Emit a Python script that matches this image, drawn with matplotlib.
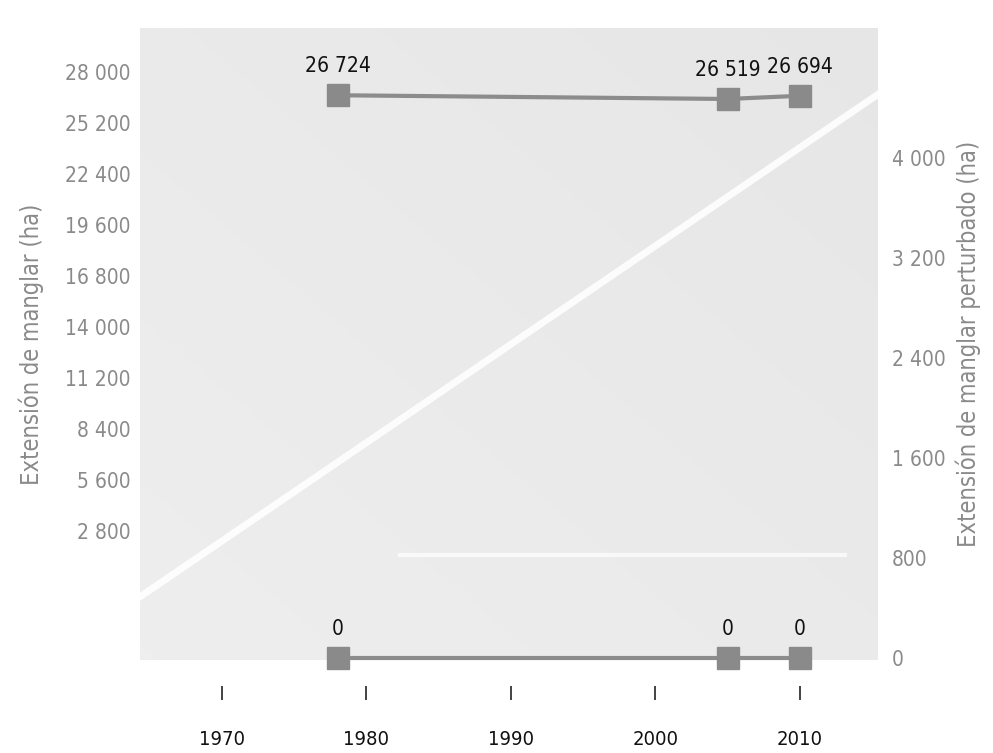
import numpy as np
import matplotlib.pyplot as plt
from matplotlib.ticker import FuncFormatter

plt.rcParams['font.family'] = ['DejaVu Sans']
plt.rcParams['font.stretch'] = 'condensed'

years = [1978, 2005, 2010]
manglar = [26724, 26519, 26694]
perturbado = [0, 0, 0]
left_ticks = [2800, 5600, 8400, 11200, 14000, 16800, 19600, 22400, 25200, 28000]
right_ticks = [0, 800, 1600, 2400, 3200, 4000]
year_ticks = [1970, 1980, 1990, 2000, 2010]


def miles(v, pos=None):
    return f"{int(v):,}".replace(",", " ")


def graph_plot():
    fig = plt.figure(figsize=(9.93, 7.53), dpi=100)
    ax = fig.add_axes([140/993, 1-660/753, 738/993, 632/753])
    ax2 = ax.twinx()

    # soft gray panel with a faint gradient
    grad = np.linspace(0, 1, 200)
    gx, gy = np.meshgrid(grad, grad)
    shade = 0.93 - 0.03*(gx*0.5 + (1-gy)*0.5)
    ax.imshow(shade, cmap='gray', vmin=0, vmax=1, extent=[0, 1, 0, 1],
              transform=ax.transAxes, aspect='auto', zorder=0, origin='upper')
    ax.plot([0, 1], [0.10, 0.895], transform=ax.transAxes, color='white', lw=5,
            alpha=0.9, zorder=1)
    ax.plot([0.352, 0.955], [0.166, 0.166], transform=ax.transAxes, color='white',
            lw=3, alpha=0.7, zorder=1)

    ax.set_xlim(1964.33, 2015.4)
    ax.set_ylim(-4282, 30416)
    ax2.set_ylim(-16, 5040)

    ax.plot(years, manglar, color='#8c8c8c', lw=3, marker='s', markersize=16,
            markerfacecolor='#8a8a8a', markeredgecolor='#8a8a8a', zorder=3)
    ax2.plot(years, perturbado, color='#8c8c8c', lw=3, marker='s', markersize=16,
             markerfacecolor='#8a8a8a', markeredgecolor='#8a8a8a', zorder=3,
             clip_on=False)

    for x, y in zip(years, manglar):
        ax.annotate(miles(y), (x, y), xytext=(0, 21), textcoords='offset points',
                    ha='center', va='center', fontsize=15, color='#111111')
    for x, y in zip(years, perturbado):
        ax2.annotate(miles(y), (x, y), xytext=(0, 21), textcoords='offset points',
                     ha='center', va='center', fontsize=15, color='#111111')

    for a in (ax, ax2):
        for s in a.spines.values():
            s.set_visible(False)

    ax.set_yticks(left_ticks)
    ax.yaxis.set_major_formatter(FuncFormatter(miles))
    ax.tick_params(axis='y', length=0, pad=7, labelsize=15, labelcolor='#8a8a8a')
    ax2.set_yticks(right_ticks)
    ax2.yaxis.set_major_formatter(FuncFormatter(miles))
    ax2.tick_params(axis='y', length=0, pad=10, labelsize=15, labelcolor='#8a8a8a')

    ax.spines['bottom'].set_position(('outward', 18.7))
    ax.set_xticks(year_ticks)
    ax.tick_params(axis='x', direction='out', length=10, width=1.2, color='#222222',
                   pad=22, labelsize=14.5, labelcolor='#111111')

    ax.set_ylabel("Extensión de manglar (ha)", fontsize=17, color='#8a8a8a')
    ax2.set_ylabel("Extensión de manglar perturbado (ha)", fontsize=17,
                   color='#8a8a8a')
    ax.yaxis.set_label_coords(-0.13, 0.5)
    ax2.yaxis.set_label_coords(1.105, 0.5)

    fig.savefig("out.png", dpi=100)


graph_plot()
